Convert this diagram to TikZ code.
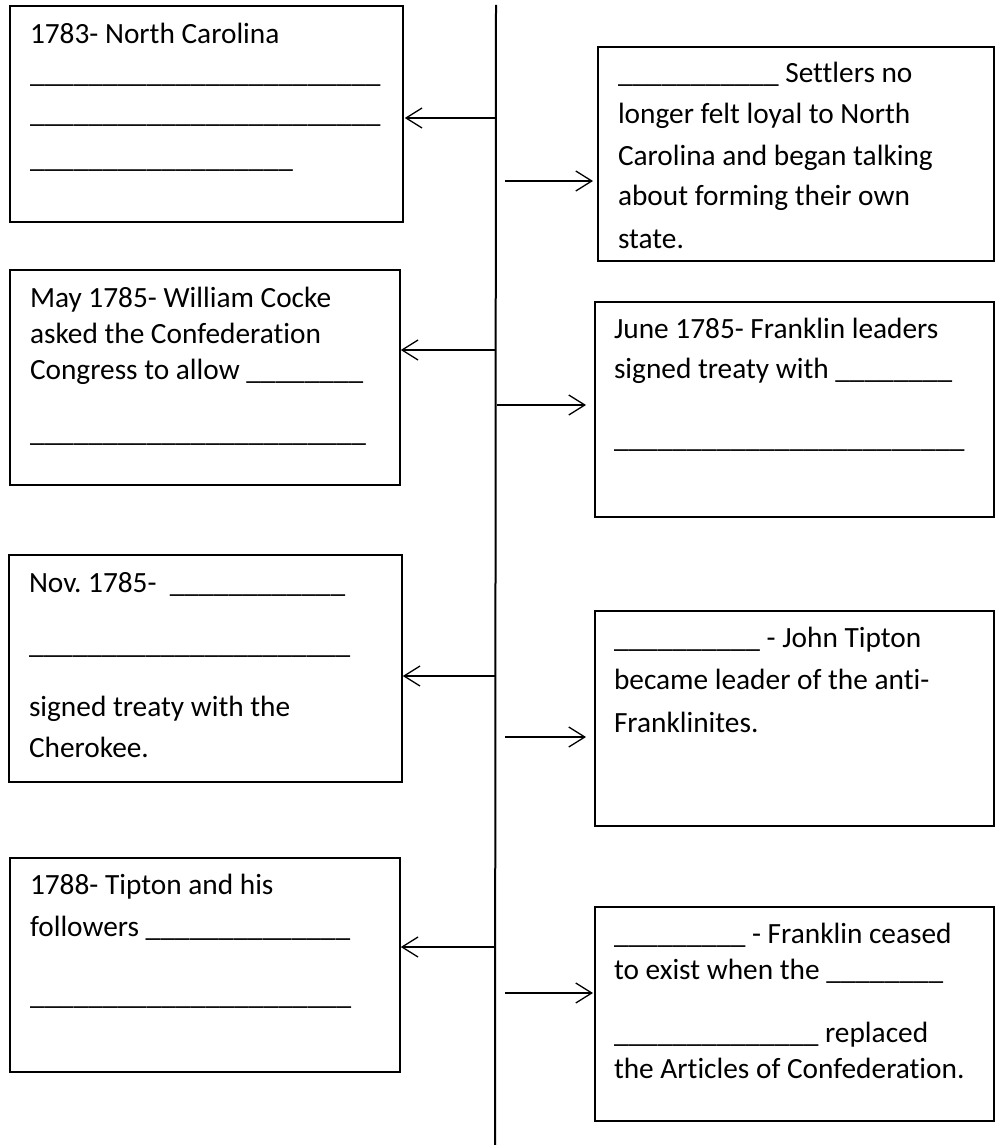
\documentclass[tikz,border=0pt]{standalone}
\usepackage{fontspec}
\setmainfont{Carlito}[Ligatures={CommonOff}]
\usetikzlibrary{arrows.meta}
\ExplSyntaxOn
\NewDocumentCommand\Blank{m}{\prg_replicate:nn{#1}{\textunderscore}}
\ExplSyntaxOff
\tikzset{
  tbox/.style={draw=black, line width=1.8pt, inner sep=0pt, anchor=north west, fill=none},
  txt/.style={anchor=base west, inner sep=0pt, outer sep=0pt, font=\fontsize{29.33}{35.8}\selectfont\frenchspacing},
  spine/.style={draw=black, line width=2pt},
  arr/.style={draw=black, line width=1.3pt, -{Straight Barb[length=16pt,width=20pt,line width=1.3pt]}}
}
\begin{document}
\begin{tikzpicture}[x=1pt,y=-1pt]
\useasboundingbox (0,0) rectangle (997,1145);
% boxes
\node[tbox, minimum width=393pt, minimum height=216pt] (b1) at (9,5) {};
\node[tbox, minimum width=396pt, minimum height=214pt] (b2) at (597,46) {};
\node[tbox, minimum width=390pt, minimum height=215pt] (b3) at (9,269) {};
\node[tbox, minimum width=399pt, minimum height=215pt] (b4) at (594,301) {};
\node[tbox, minimum width=393pt, minimum height=227pt] (b5) at (8,554) {};
\node[tbox, minimum width=399pt, minimum height=215pt] (b6) at (594,610) {};
\node[tbox, minimum width=390pt, minimum height=214pt] (b7) at (9,857) {};
\node[tbox, minimum width=399pt, minimum height=214pt] (b8) at (594,906) {};
% spine
\coordinate (top) at (496,5);
\coordinate (bot) at (495,1145);
\draw[spine] (top) -- (bot);
% connector start points on the spine
\coordinate (s1) at (495,118);
\coordinate (s3) at (495,350);
\coordinate (s5) at (495,676);
\coordinate (s7) at (495,947);
\coordinate (s2) at (505,181);
\coordinate (s4) at (497,405);
\coordinate (s6) at (505,737);
\coordinate (s8) at (505,993);
\draw[arr, shorten >=1pt] (s1) -- (s1 -| b1.east);
\draw[arr] (s3) -- (s3 -| b3.east);
\draw[arr] (s5) -- (s5 -| b5.east);
\draw[arr] (s7) -- (s7 -| b7.east);
\draw[arr, shorten >=4pt] (s2) -- (s2 -| b2.west);
\draw[arr, shorten >=8pt] (s4) -- (s4 -| b4.west);
\draw[arr, shorten >=8pt] (s6) -- (s6 -| b6.west);
\draw[arr, shorten >=1pt] (s8) -- (s8 -| b8.west);
% box 1
\node[txt] (t1a) at (30,44) {1783- North Carolina};
\node[txt] (t1b) at (30,83) {\Blank{24}};
\node[txt] (t1c) at (30,123) {\Blank{24}};
\node[txt] (t1d) at (30,167) {\Blank{18}};
% box 2
\node[txt] (t2a) at (618,83) {\Blank{11} Settlers no};
\node[txt] (t2b) at (618,124) {longer felt loyal to North};
\node[txt] (t2c) at (618,165) {Carolina and began talking};
\node[txt] (t2d) at (618,205) {about forming their own};
\node[txt] (t2e) at (618,248) {state.};
% box 3
\node[txt] (t3a) at (30,307) {May 1785- William Cocke};
\node[txt] (t3b) at (30,343) {asked the Confederation};
\node[txt] (t3c) at (30,379) {Congress to allow \Blank{8}};
\node[txt] (t3d) at (30,441) {\Blank{23}};
% box 4
\node[txt] (t4a) at (614,338) {June 1785- Franklin leaders};
\node[txt] (t4b) at (614,378) {signed treaty with \Blank{8}};
\node[txt] (t4c) at (614,447) {\Blank{24}};
% box 5
\node[txt] (t5a) at (29,592) {Nov. 1785-\ \ \Blank{12}};
\node[txt] (t5b) at (29,653) {\Blank{22}};
\node[txt] (t5c) at (29,716) {signed treaty with the};
\node[txt] (t5d) at (29,757) {Cherokee.};
% box 6
\node[txt] (t6a) at (614,647) {\Blank{10} - John Tipton};
\node[txt] (t6b) at (614,689) {became leader of the anti-};
\node[txt] (t6c) at (614,732) {Franklinites.};
% box 7
\node[txt] (t7a) at (30,894) {1788- Tipton and his};
\node[txt] (t7b) at (30,936) {followers \Blank{14}};
\node[txt] (t7c) at (30,1004) {\Blank{22}};
% box 8
\node[txt] (t8a) at (614,943) {\Blank{9} - Franklin ceased};
\node[txt] (t8b) at (614,979) {to exist when the \Blank{8}};
\node[txt] (t8c) at (614,1042) {\Blank{14} replaced};
\node[txt] (t8d) at (614,1078) {the Articles of Confederation.};
\end{tikzpicture}
\end{document}
